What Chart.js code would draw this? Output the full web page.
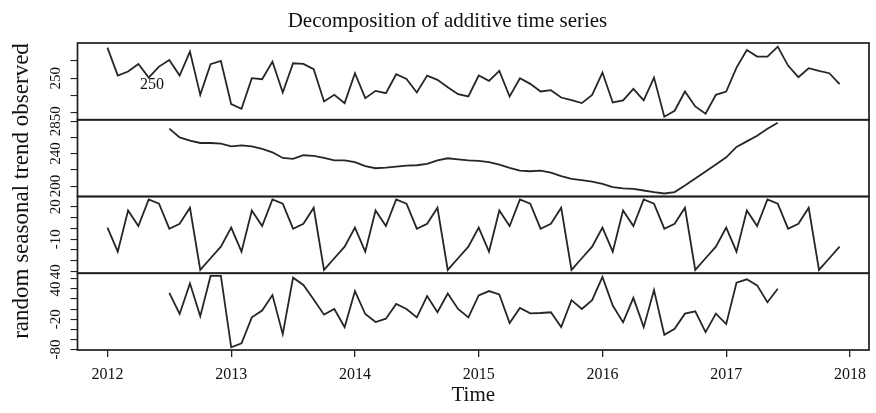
<!DOCTYPE html>
<html><head><meta charset="utf-8">
<script src="https://cdn.jsdelivr.net/npm/chart.js@4.4.1/dist/chart.umd.min.js"></script>
<style>html,body{margin:0;padding:0;background:#fff;} #wrap{width:876px;height:413px;}</style>
</head><body>
<div id="wrap"><canvas id="c" width="876" height="413"></canvas></div>
<script>
const startYear = 2012;
const monthsPerYear = 12;
const xTickYears = [2012, 2013, 2014, 2015, 2016, 2017, 2018];

const observed = [
  338.5, 257.6, 269.2, 291.3, 251.8, 283.6, 302.9, 257.6, 327.0, 201.7, 290.4, 300.0,
  174.8, 161.3, 250.0, 247.0, 298.1, 208.5, 293.3, 291.3, 275.9, 182.5, 201.7, 177.7,
  264.4, 192.1, 213.3, 206.6, 261.5, 248.0, 208.5, 257.6, 245.1, 223.9, 203.7, 196.9,
  257.6, 242.2, 271.1, 196.9, 250.0, 233.5, 211.4, 215.2, 194.0, 186.3, 177.7, 201.7,
  266.3, 179.6, 185.4, 219.1, 185.4, 251.8, 138.2, 155.5, 211.4, 168.0, 146.8, 201.7,
  211.4, 280.7, 331.8, 312.5, 312.5, 341.4, 286.5, 252.8, 278.8, 271.1, 264.4, 232.6
];
const trend = [
  null, null, null, null, null, null, 270.7, 260.0, 256.0, 253.1, 253.1, 252.3,
  249.0, 250.2, 249.0, 245.7, 241.6, 234.7, 233.5, 238.0, 237.1, 234.7, 231.8, 231.8,
  229.4, 224.5, 222.0, 222.8, 224.0, 225.3, 225.7, 227.3, 231.8, 234.3, 233.0, 231.8,
  231.0, 229.4, 226.5, 222.4, 219.1, 218.3, 219.1, 216.7, 212.2, 208.9, 207.3, 205.6,
  202.8, 198.7, 197.1, 196.6, 194.6, 192.6, 190.9, 192.6, 200.7, 209.3, 217.9, 226.5,
  235.5, 248.2, 255.1, 262.1, 270.7, 278.0, null, null, null, null, null, null
];
const seasonal = [
  0.7, -21.5, 16.6, 2.1, 26.7, 22.8, -0.3, 4.3, 19.1, -38.4, -27.6, -16.9,
  0.7, -21.5, 16.6, 2.1, 26.7, 22.8, -0.3, 4.3, 19.1, -38.4, -27.6, -16.9,
  0.7, -21.5, 16.6, 2.1, 26.7, 22.8, -0.3, 4.3, 19.1, -38.4, -27.6, -16.9,
  0.7, -21.5, 16.6, 2.1, 26.7, 22.8, -0.3, 4.3, 19.1, -38.4, -27.6, -16.9,
  0.7, -21.5, 16.6, 2.1, 26.7, 22.8, -0.3, 4.3, 19.1, -38.4, -27.6, -16.9,
  0.7, -21.5, 16.6, 2.1, 26.7, 22.8, -0.3, 4.3, 19.1, -38.4, -27.6, -16.9
];
const randomPart = [
  null, null, null, null, null, null, 32.3, -9.7, 51.0, -14.3, 65.7, 65.7,
  -75.7, -67.7, -16.3, -3.0, 27.7, -49.7, 62.3, 47.7, 19.0, -11.0, 0.3, -35.7,
  35.7, -9.7, -25.7, -19.0, 10.3, 0.3, -16.3, 25.7, -6.3, 31.0, 0.3, -16.3,
  27.0, 35.7, 29.0, -27.7, 2.3, -8.3, -7.7, -6.3, -35.7, 17.7, 0.3, 17.7,
  63.7, 7.0, -26.3, 22.3, -35.7, 37.7, -51.0, -39.0, -9.0, -4.3, -45.7, -9.0,
  -29.7, 52.3, 59.0, 47.0, 13.7, 40.3, null, null, null, null, null, null
];

// tick positions and the tick labels as they appear in the picture
const obsTicks = [150, 200, 250, 300];
const obsTickLabels = [[250, '250']];
const trendTicks = [200, 220, 240, 260, 280];
const trendTickLabels = [[280, '2850'], [240, '240'], [200, '200']];
const seasTicks = [-40, -30, -20, -10, 0, 10, 20];
const seasTickLabels = [[20, '20'], [-10, '-10'], [-40, '40']];
const randTicks = [-80, -60, -40, -20, 0, 20, 40, 60];
const randTickLabels = [[40, '40'], [-20, '-20'], [-80, '-80']];

const titleText = 'Decomposition of additive time series';
const xTitle = 'Time';
const yTitle = 'random seasonal trend observed';
const strayText = '250';

const SERIF = '"Liberation Serif", "DejaVu Serif", serif';
const LINE = '#262626';

const times = observed.map((_, i) => startYear + i / monthsPerYear);
const toPts = arr => arr.map((v, i) => ({ x: times[i], y: v }));

function yScale(min, max, ticks) {
  return {
    type: 'linear', position: 'left', stack: 'dec', stackWeight: 1,
    min: min, max: max,
    afterBuildTicks: s => { s.ticks = ticks.map(v => ({ value: v })); },
    afterFit: s => { s.width = 77.5; },
    ticks: { display: false },
    border: { display: false },
    grid: { display: true, drawOnChartArea: false, drawTicks: true, tickLength: 7, color: '#222', lineWidth: 1.1 }
  };
}

const decor = {
  id: 'decor',
  afterDraw(chart) {
    const ctx = chart.ctx;
    const ca = chart.chartArea;
    ctx.save();
    ctx.strokeStyle = '#1e1e1e';
    ctx.lineWidth = 1.7;
    ['yObs', 'yTrend', 'ySea', 'yRnd'].forEach(id => {
      const s = chart.scales[id];
      ctx.strokeRect(ca.left, s.top, ca.right - ca.left, s.bottom - s.top);
    });
    ctx.fillStyle = '#111';
    ctx.textAlign = 'center';
    ctx.textBaseline = 'middle';
    ctx.font = '15px ' + SERIF;
    const groups = [['yObs', obsTickLabels], ['yTrend', trendTickLabels], ['ySea', seasTickLabels], ['yRnd', randTickLabels]];
    groups.forEach(([id, labs]) => {
      const s = chart.scales[id];
      labs.forEach(([v, t]) => {
        const y = s.getPixelForValue(v);
        ctx.save();
        ctx.translate(56, y);
        ctx.rotate(-Math.PI / 2);
        ctx.fillText(t, 0, 0);
        ctx.restore();
      });
    });
    // stray label inside top panel
    ctx.font = '16px ' + SERIF;
    ctx.fillText(strayText, 152, 85);
    // y axis title
    ctx.font = '23px ' + SERIF;
    ctx.save();
    ctx.translate(22, 191);
    ctx.rotate(-Math.PI / 2);
    ctx.fillText(yTitle, 0, 0);
    ctx.restore();
    // main title
    ctx.font = '21px ' + SERIF;
    ctx.fillText(titleText, 447.5, 21);
    ctx.restore();
  }
};

const ds = (data, axis) => ({
  data: toPts(data), yAxisID: axis, borderColor: LINE, borderWidth: 1.8,
  pointRadius: 0, tension: 0, fill: false, spanGaps: false
});

new Chart(document.getElementById('c'), {
  type: 'line',
  data: {
    datasets: [
      ds(observed, 'yObs'),
      ds(trend, 'yTrend'),
      ds(seasonal, 'ySea'),
      ds(randomPart, 'yRnd')
    ]
  },
  options: {
    responsive: false,
    animation: false,
    devicePixelRatio: 1,
    layout: { padding: { top: 43, right: 7, left: 0, bottom: 0 } },
    plugins: { legend: { display: false }, tooltip: { enabled: false }, title: { display: false } },
    scales: {
      x: {
        type: 'linear', min: 2011.758, max: 2018.154,
        afterBuildTicks: s => { s.ticks = xTickYears.map(v => ({ value: v })); },
        afterFit: s => { s.height = 63; },
        border: { display: false },
        grid: { display: true, drawOnChartArea: false, drawTicks: true, tickLength: 7, color: '#222', lineWidth: 1.3 },
        ticks: { color: '#111', font: { family: SERIF, size: 16 }, padding: 8, maxRotation: 0, callback: v => String(v) },
        title: { display: true, text: xTitle, color: '#111', font: { family: SERIF, size: 21 }, padding: { top: 0, bottom: 5 } }
      },
      yRnd: yScale(-81, 71, randTicks),
      ySea: yScale(-41.5, 29.5, seasTicks),
      yTrend: yScale(187.2, 281.7, trendTicks),
      yObs: yScale(129.5, 352, obsTicks)
    }
  },
  plugins: [decor]
});
</script>
</body></html>
